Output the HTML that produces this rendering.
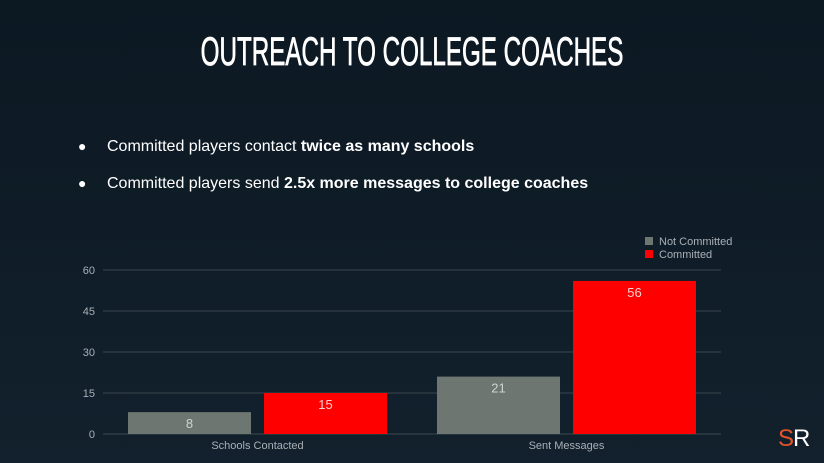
<!DOCTYPE html>
<html><head><meta charset="utf-8"><style>
body{margin:0;width:824px;height:463px;overflow:hidden;background:linear-gradient(#0c1822,#12212d);font-family:"Liberation Sans",sans-serif;position:relative}
#title{position:absolute;left:0;width:824px;top:30px;text-align:center;color:#fff;font-size:40px;-webkit-text-stroke:0.8px #fff;transform:scaleX(0.605);transform-origin:center;white-space:nowrap}
.b{position:absolute;left:78px;color:#fff;font-size:16px}
.b span.d{position:absolute;left:0;font-size:14px}
.b .t{position:absolute;left:29px;white-space:nowrap}
#sr{position:absolute;left:778px;top:425px;font-size:24px;color:#fff;letter-spacing:-1px}
</style></head><body>
<div id="title">OUTREACH TO COLLEGE COACHES</div>
<div class="b" style="top:138px"><span class="d">●</span><span class="t">Committed players contact <b>twice as many schools</b></span></div>
<div class="b" style="top:175px"><span class="d">●</span><span class="t">Committed players send <b>2.5x more messages to college coaches</b></span></div>
<div id="sr"><span style="color:#e5532b">S</span>R</div>
<svg id="chart" width="824" height="463" style="position:absolute;left:0;top:0"></svg>
<script>
const categories=["Schools Contacted","Sent Messages"];
const notCommitted=[8,21];
const committed=[15,56];
const ticks=[0,15,30,45,60];
const seriesNames=["Not Committed","Committed"];
const NS="http://www.w3.org/2000/svg";
const svg=document.getElementById('chart');
const x0=103,x1=721,y0=434,y1=270,ymax=60;
const y=v=>y0-(v/ymax)*(y0-y1);
const catW=(x1-x0)/categories.length;
function mk(t,a,txt){const e=document.createElementNS(NS,t);for(const k in a)e.setAttribute(k,a[k]);if(txt!==undefined)e.textContent=txt;svg.appendChild(e);return e;}
ticks.forEach(t=>{
 const l=mk('line',{x1:x0,x2:x1,y1:y(t),y2:y(t),stroke:'#3a4750','stroke-width':1});
 
 
 const tx=mk('text',{x:x0-8,y:y(t)+4,'text-anchor':'end',fill:'#a9b0b5','font-size':11,'font-family':'Liberation Sans'},t);
 
 
});
const bw=123,gap=13,pad=(catW-2*bw-gap)/2;
const colors=['#6d7670','#ff0000'];
categories.forEach((c,i)=>{
 const gx=x0+i*catW;
 [notCommitted[i],committed[i]].forEach((v,s)=>{
  const bx=gx+pad+s*(bw+gap);
  const r=mk('rect',{x:bx,y:y(v),width:bw,height:y0-y(v),fill:colors[s]});
  
  
  const lb=mk('text',{x:bx+bw/2,y:y(v)+16,'text-anchor':'middle',fill:s?'#ffd0d0':'#d0d4d2','font-size':13,'font-family':'Liberation Sans'},v);
  
  
 });
 const cl=mk('text',{x:gx+catW/2,y:449,'text-anchor':'middle',fill:'#a9b0b5','font-size':11,'font-family':'Liberation Sans'},c);
 
 
});
seriesNames.forEach((n,s)=>{
 const r=mk('rect',{x:645,y:237+s*13,width:8,height:8,fill:colors[s]});
 
 
 const t=mk('text',{x:659,y:245+s*13,fill:'#a9b0b5','font-size':11,'font-family':'Liberation Sans'},n);
 
 
});
</script>
</body></html>
